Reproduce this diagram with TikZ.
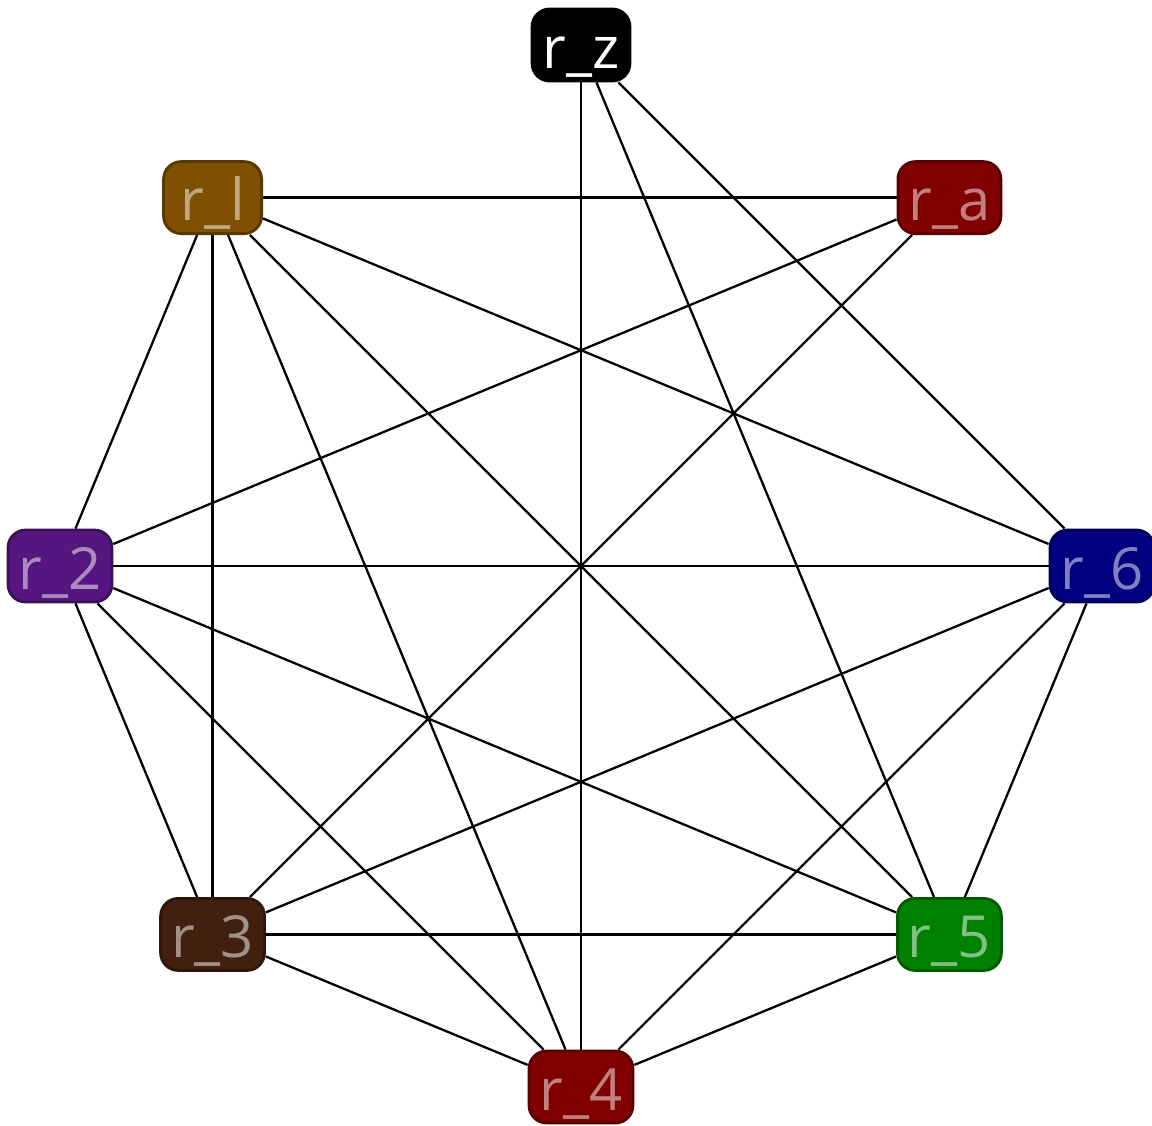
\documentclass[tikz,border=0pt]{standalone}
\usepackage{fontspec}
\newfontfamily\labelfont{Open Sans}
\usetikzlibrary{positioning}
\definecolor{RegA}{HTML}{800000}
\definecolor{RegOne}{HTML}{7F5000}
\definecolor{RegTwo}{HTML}{55167F}
\definecolor{RegThree}{HTML}{42200F}
\definecolor{RegFour}{HTML}{800000}
\definecolor{RegFive}{HTML}{008000}
\definecolor{RegSix}{HTML}{000080}
\tikzset{
  regbox/.style={draw=#1!70!black,fill=#1,text=#1!50!white,rounded corners=5pt,line width=0.8pt,minimum width=0.98cm,text height=0.59cm,text depth=0.13cm,inner xsep=3pt,inner ysep=0pt,font=\labelfont\fontsize{16.5}{19}\selectfont},
  hotbox/.style={draw=black,fill=black,text=white,rounded corners=5pt,line width=0.8pt,minimum width=0.94cm,text height=0.59cm,text depth=0.13cm,inner xsep=3pt,inner ysep=0pt,font=\labelfont\fontsize{16.5}{19}\selectfont},
  edge/.style={draw=black,line width=0.65pt}
}

\begin{document}
\begin{tikzpicture}
  \useasboundingbox (-5.81,-5.59) rectangle (5.71,5.66);
  \node[hotbox] (rz) at (90:5.21) {r\_z};
  \node[regbox=RegA] (ra) at (45:5.21) {r\_a};
  \node[regbox=RegOne] (r1) at (135:5.21) {r\_l};
  \node[regbox=RegTwo] (r2) at (180:5.21) {r\_2};
  \node[regbox=RegThree] (r3) at (225:5.21) {r\_3};
  \node[regbox=RegFour] (r4) at (270:5.21) {r\_4};
  \node[regbox=RegFive] (r5) at (315:5.21) {r\_5};
  \node[regbox=RegSix] (r6) at (0:5.21) {r\_6};
  % r_z and r_a
  \foreach \to in {r4,r5,r6} \draw[edge] (rz) -- (\to);
  \foreach \to in {r1,r2,r3} \draw[edge] (ra) -- (\to);
  % every pair of r_l .. r_6
  \foreach \from/\to in {r1/r2,r1/r3,r1/r4,r1/r5,r1/r6,r2/r3,r2/r4,r2/r5,r2/r6,r3/r4,r3/r5,r3/r6,r4/r5,r4/r6,r5/r6}
    \draw[edge] (\from) -- (\to);
\end{tikzpicture}
\end{document}
